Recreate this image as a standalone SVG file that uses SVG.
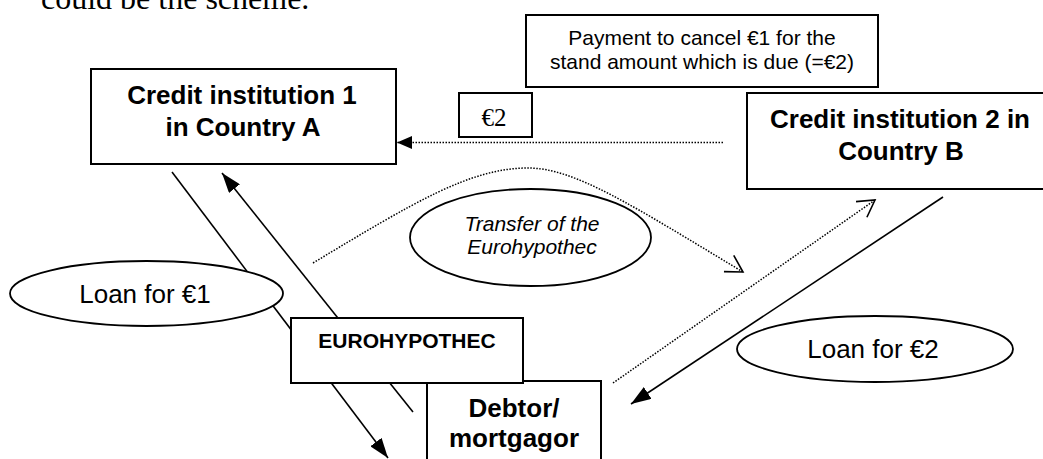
<svg xmlns="http://www.w3.org/2000/svg" width="1043" height="459" viewBox="0 0 1043 459">
<style>
.box{fill:#fff;stroke:#000;stroke-width:2}
.ell{fill:#fff;stroke:#000;stroke-width:1.8}
.ln{fill:none;stroke:#000;stroke-width:1.6}
.dot{fill:none;stroke:#000;stroke-width:1.5;stroke-dasharray:1.5 1.5}
.b26{font-family:"Liberation Sans",Arial,sans-serif;font-weight:bold;font-size:26px;text-anchor:middle}
.r21{font-family:"Liberation Sans",Arial,sans-serif;font-size:21px;text-anchor:middle}
.r25{font-family:"Liberation Sans",Arial,sans-serif;font-size:26px;text-anchor:middle}
.i20{font-family:"Liberation Sans",Arial,sans-serif;font-style:italic;font-size:21px;text-anchor:middle}
.b20{font-family:"Liberation Sans",Arial,sans-serif;font-weight:bold;font-size:21px;text-anchor:middle}
</style>
<defs>
<marker id="fill" markerUnits="userSpaceOnUse" markerWidth="20" markerHeight="14" refX="20" refY="7" orient="auto" viewBox="0 0 20 14">
<path d="M0,0 L20,7 L0,14 z" fill="#000"/>
</marker>
<marker id="fillS" markerUnits="userSpaceOnUse" markerWidth="15" markerHeight="13" refX="15" refY="6.5" orient="auto" viewBox="0 0 15 13">
<path d="M0,0 L15,6.5 L0,13 z" fill="#000"/>
</marker>
<marker id="open" markerUnits="userSpaceOnUse" markerWidth="20" markerHeight="22" refX="17" refY="11" orient="auto" viewBox="0 0 20 22">
<path d="M0.5,1.5 L17,11 L0.5,20.5" fill="none" stroke="#000" stroke-width="1.6"/>
</marker>
</defs>
<text x="41" y="9" font-family="Liberation Serif,Times New Roman,serif" font-size="32">could be the scheme.</text>
<g id="connectors">
<line class="dot" x1="723" y1="142.5" x2="397" y2="142.5" marker-end="url(#fillS)"/>
<path class="dot" d="M313,263 C413,203 470,168 528,168 C575,168 633,206 743,272" marker-end="url(#open)"/>
<line class="dot" x1="613" y1="383" x2="875" y2="200" marker-end="url(#open)"/>
<line class="ln" x1="943" y1="197" x2="631" y2="404" marker-end="url(#fill)"/>
<line class="ln" x1="172" y1="172" x2="388" y2="458" marker-end="url(#fill)"/>
<line class="ln" x1="413" y1="412" x2="222" y2="173" marker-end="url(#fill)"/>
</g>
<g id="ci1">
<rect class="box" x="91" y="69" width="305" height="95"/>
<text class="b26" x="242" y="104">Credit institution 1</text>
<text class="b26" x="243" y="136">in Country A</text>
</g>
<g id="payment">
<rect class="box" x="526" y="15" width="352" height="72"/>
<text class="r21" x="702" y="45">Payment to cancel €1 for the</text>
<text class="r21" x="702" y="69">stand amount which is due (=€2)</text>
</g>
<g id="eur2">
<rect class="box" x="459" y="93" width="73" height="44"/>
<text x="494" y="126" font-family="Liberation Serif,Times New Roman,serif" font-size="25" text-anchor="middle">€2</text>
</g>
<g id="ci2">
<rect class="box" x="747" y="93" width="300" height="96"/>
<text class="b26" x="900" y="128">Credit institution 2 in</text>
<text class="b26" x="901" y="160">Country B</text>
</g>
<g id="transfer">
<ellipse class="ell" cx="530.5" cy="237.5" rx="120.5" ry="48.5"/>
<text class="i20" x="532" y="231">Transfer of the</text>
<text class="i20" x="532" y="254">Eurohypothec</text>
</g>
<g id="loan1">
<ellipse class="ell" cx="146.5" cy="293.5" rx="136.5" ry="32.5"/>
<text class="r25" x="145" y="303">Loan for €1</text>
</g>
<g id="loan2">
<ellipse class="ell" cx="875" cy="349" rx="138" ry="33"/>
<text class="r25" x="873" y="358">Loan for €2</text>
</g>
<g id="debtor">
<rect class="box" x="427" y="381" width="174" height="100"/>
<text class="b26" x="514" y="417">Debtor/</text>
<text class="b26" x="514" y="447">mortgagor</text>
</g>
<g id="eurohypothec">
<rect class="box" x="291" y="318" width="232" height="65"/>
<text class="b20" x="407" y="348">EUROHYPOTHEC</text>
</g>
</svg>
